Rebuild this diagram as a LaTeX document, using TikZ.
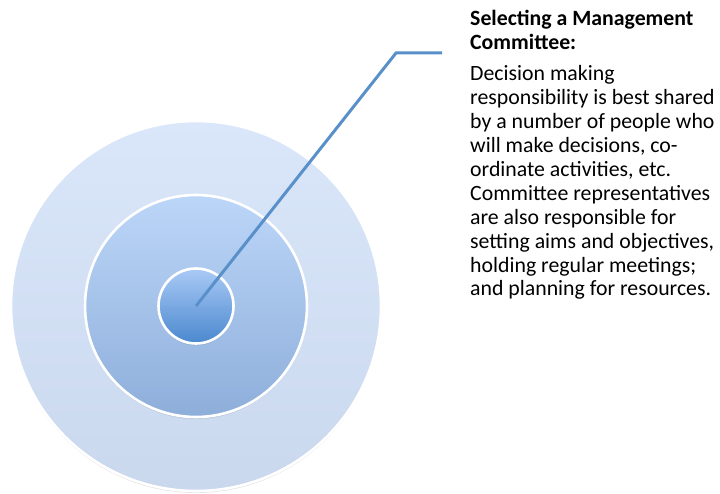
\documentclass[tikz,border=0pt]{standalone}
\usepackage{fontspec}
\setmainfont{Carlito}
\usetikzlibrary{shadows}
\definecolor{outerT}{HTML}{DAE7FA}
\definecolor{outerB}{HTML}{CAD8EE}
\definecolor{midT}{HTML}{BCD6F8}
\definecolor{midB}{HTML}{8EAEDA}
\definecolor{innT}{HTML}{AACAF6}
\definecolor{innB}{HTML}{4A88CE}
\definecolor{connC}{HTML}{5A90C9}
\begin{document}
\begin{tikzpicture}[x=1pt,y=-1pt,
  ring/.style={circle, draw=white, line width=2.6pt, inner sep=0pt,
    drop shadow={shadow xshift=0pt, shadow yshift=-2pt, opacity=0.18, fill=black!60}},
  conn/.style={draw=connC, line width=3pt, line join=miter},
  bodytext/.style={anchor=base west, align=left, inner sep=0pt,
    font=\fontsize{21.8}{23.9}\selectfont}]
\useasboundingbox (0,0) rectangle (720,494);
\fill[white] (0,0) rectangle (720,494);
\node[ring, minimum size=370pt, top color=outerT, bottom color=outerB] (outer) at (196,306) {};
\node[ring, minimum size=222pt, top color=midT, bottom color=midB] (middle) at (196,306) {};
\node[ring, minimum size=75pt, top color=innT, bottom color=innB] (inner) at (196,306) {};
\coordinate (elbow) at (396,53);
\coordinate (tip) at (442,53);
\draw[conn] (inner.center) -- (elbow) -- (tip);
\node[bodytext, font=\fontsize{21.8}{23.5}\selectfont\bfseries] (title) at (470,49.5)
  {Selecting a Management\\Committee:};
\node[bodytext] (body) at (470,296)
  {Decision making\\
   responsibility is best shared\\
   by a number of people who\\
   will make decisions, co-\\
   ordinate activities, etc.\\
   Committee representatives\\
   are also responsible for\\
   setting aims and objectives,\\
   holding regular meetings;\\
   and planning for resources.};
\end{tikzpicture}
\end{document}
